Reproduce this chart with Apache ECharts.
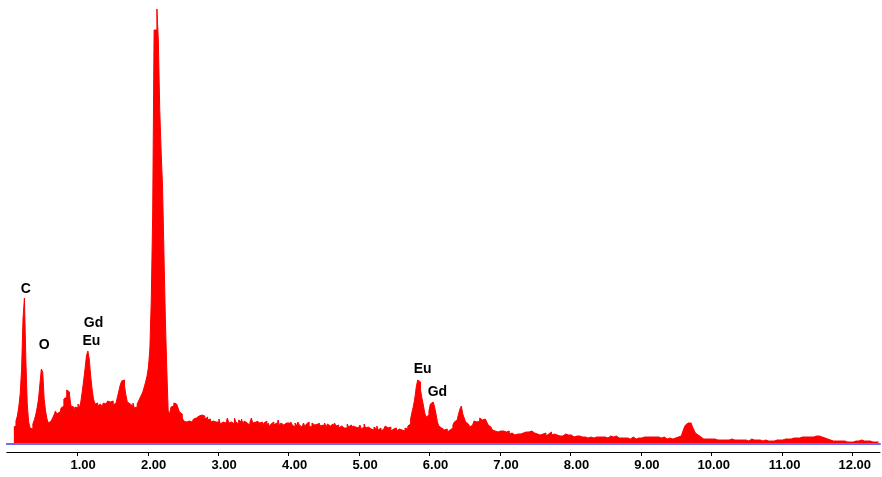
<!DOCTYPE html>
<html>
<head>
<meta charset="utf-8">
<script src="https://cdn.jsdelivr.net/npm/echarts@6/dist/echarts.min.js"></script>
<style>
  html, body { margin: 0; padding: 0; background: #fff; }
  #main { width: 882px; height: 477px; }
</style>
</head>
<body>
<div id="main"></div>
<script>
// channel energy calibration (keV)
var energyStart = 0.10;
var energyStep = 0.02;

// counts per channel, 10 channels per row
var countsLow = [ // 0.10 - 2.98 keV
  17, 18, 23, 28, 37, 50, 75, 125, 146, 85,
  40, 22, 16, 15, 20, 24, 29, 36, 45, 60,
  75, 72, 45, 33, 25, 21, 23, 21, 26, 29,
  33, 30, 32, 29, 36, 38, 45, 47, 54, 52,
  49, 38, 37, 33, 37, 36, 40, 36, 42, 52,
  63, 75, 88, 93, 85, 68, 55, 45, 40, 41,
  38, 40, 39, 37, 41, 40, 39, 43, 42, 40,
  43, 39, 41, 43, 47, 53, 59, 63, 64, 58,
  49, 42, 40, 41, 38, 41, 36, 37, 40, 43,
  46, 49, 52, 57, 62, 68, 77, 95, 144, 230,
  414, 414, 435, 404, 335, 292, 257, 190, 125, 75,
  33, 30, 37, 38, 41, 40, 39, 36, 32, 30,
  26, 23, 22, 21, 23, 24, 22, 24, 25, 26,
  25, 28, 26, 29, 27, 28, 25, 27, 24, 25,
  22, 23, 21, 22, 20
];
var countsMid = [ // 3.00 - 5.98 keV
  22, 25, 20, 22, 24, 21, 23, 26, 21, 22,
  23, 20, 26, 22, 20, 24, 22, 25, 20, 23,
  21, 23, 19, 22, 26, 21, 22, 19, 23, 21,
  20, 22, 18, 21, 23, 18, 21, 17, 20, 22,
  19, 21, 17, 24, 18, 21, 19, 17, 21, 19,
  21, 18, 22, 19, 17, 21, 18, 22, 19, 17,
  19, 21, 17, 20, 22, 18, 17, 21, 19, 17,
  20, 17, 21, 18, 19, 16, 21, 17, 20, 18,
  16, 20, 17, 21, 18, 19, 16, 18, 20, 16,
  18, 16, 20, 17, 19, 15, 18, 17, 19, 16,
  17, 19, 15, 17, 20, 16, 17, 19, 15, 17,
  14, 17, 15, 18, 14, 16, 13, 15, 17, 18,
  16, 14, 17, 13, 15, 14, 16, 13, 15, 13,
  14, 15, 13, 16, 15, 18, 20, 25, 32, 38,
  46, 57, 64, 62, 54, 46, 39, 31, 27, 29
];
var countsHigh = [ // 6.00 - 8.98 keV
  33, 40, 42, 41, 37, 30, 22, 18, 16, 15,
  14, 13, 15, 12, 14, 15, 16, 19, 22, 24,
  26, 30, 35, 38, 30, 26, 22, 20, 18, 17,
  19, 21, 23, 22, 24, 23, 26, 24, 26, 25,
  24, 22, 19, 17, 15, 14, 13, 14, 12, 13,
  13, 11, 13, 14, 12, 11, 13, 10, 11, 10,
  9, 11, 10, 11, 10, 9, 11, 10, 12, 11,
  12, 10, 13, 12, 11, 12, 10, 11, 9, 11,
  10, 9, 11, 8, 10, 9, 12, 9, 10, 8,
  9, 10, 8, 10, 8, 9, 10, 8, 9, 8,
  9, 8, 7, 9, 8, 7, 8, 9, 7, 8,
  7, 8, 6, 8, 7, 7, 6, 8, 7, 6,
  7, 8, 7, 6, 7, 8, 6, 7, 8, 6,
  7, 6, 8, 7, 6, 7, 6, 7, 6, 7,
  6, 7, 5, 6, 7, 6, 5, 7, 6, 6
];
var countsTail = [ // 9.00 - 12.38 keV
  6, 5, 7, 6, 7, 6, 7, 5, 7, 6,
  7, 6, 7, 6, 6, 5, 7, 6, 5, 6,
  6, 5, 5, 6, 6, 7, 7, 7, 8, 10,
  12, 16, 19, 21, 22, 21, 19, 17, 14, 11,
  9, 8, 7, 6, 5, 5, 5, 6, 5, 5,
  5, 4, 5, 5, 4, 5, 4, 5, 4, 5,
  4, 5, 4, 4, 5, 4, 4, 5, 4, 4,
  4, 3, 4, 5, 4, 4, 3, 4, 5, 4,
  4, 3, 4, 3, 4, 4, 3, 4, 4, 3,
  3, 4, 3, 4, 3, 4, 4, 3, 4, 4,
  4, 4, 5, 4, 5, 5, 5, 5, 6, 6,
  6, 6, 6, 6, 7, 6, 7, 7, 7, 7,
  7, 8, 7, 8, 8, 8, 8, 7, 7, 7,
  6, 6, 5, 5, 4, 4, 3, 3, 3, 3,
  3, 3, 3, 3, 3, 2, 2, 3, 2, 2,
  2, 3, 3, 3, 3, 4, 4, 4, 3, 4,
  3, 3, 3, 2, 2, 3, 2, 2, 2, 2
];

var tickValues = [1, 2, 3, 4, 5, 6, 7, 8, 9, 10, 11, 12];

// element labels: name, energy (keV), height (counts) of the text centre
var peakNames = ['C', 'O', 'Gd', 'Eu', 'Eu', 'Gd'];
var peakEnergy = [0.27, 0.53, 1.23, 1.20, 5.90, 6.11];
var peakHeight = [155, 99, 121, 103, 75, 52];

var counts = countsLow.concat(countsMid, countsHigh, countsTail);
var spectrum = counts.map(function (c, i) {
  return [+(energyStart + i * energyStep).toFixed(2), c];
});

var labelFont = {
  color: '#000',
  fontFamily: 'Liberation Sans',
  fontWeight: 'bold',
  fontSize: 14
};

var myChart = echarts.init(document.getElementById('main'), null, { renderer: 'canvas' });
myChart.setOption({
  backgroundColor: '#fff',
  animation: false,
  grid: { left: 6.8, right: 2, top: 0, bottom: 33 },
  xAxis: [{
    type: 'value',
    min: 0,
    max: 12.39,
    offset: 8,
    position: 'bottom',
    splitLine: { show: false },
    axisLine: { onZero: false, lineStyle: { color: '#000', width: 1 } },
    axisTick: { customValues: tickValues, length: 4, lineStyle: { color: '#000' } },
    axisLabel: {
      customValues: tickValues,
      margin: 7,
      formatter: function (v) { return '{t|' + v.toFixed(2) + '}'; },
      rich: {
        t: {
          width: 37,
          align: 'right',
          color: '#000',
          fontFamily: 'Liberation Sans',
          fontWeight: 'bold',
          fontSize: 13
        }
      }
    }
  }, {
    type: 'value',
    min: 0,
    max: 12.39,
    position: 'bottom',
    offset: 0,
    z: 5,
    splitLine: { show: false },
    axisLine: { onZero: false, lineStyle: { color: '#6b6bf2', width: 2 } },
    axisTick: { show: false },
    axisLabel: { show: false }
  }],
  yAxis: {
    type: 'value',
    min: 0,
    max: 444,
    show: false
  },
  series: [{
    type: 'line',
    xAxisIndex: 0,
    data: spectrum,
    step: 'middle',
    symbol: 'none',
    lineStyle: { color: '#ff0000', width: 1 },
    areaStyle: { color: '#ff0000', opacity: 1 },
    markPoint: {
      symbol: 'circle',
      symbolSize: 1,
      itemStyle: { color: 'rgba(0,0,0,0)' },
      label: Object.assign({ show: true, position: 'inside', formatter: '{b}' }, labelFont),
      data: peakNames.map(function (n, i) {
        return { name: n, coord: [peakEnergy[i], peakHeight[i]] };
      })
    }
  }]
});
</script>
</body>
</html>
